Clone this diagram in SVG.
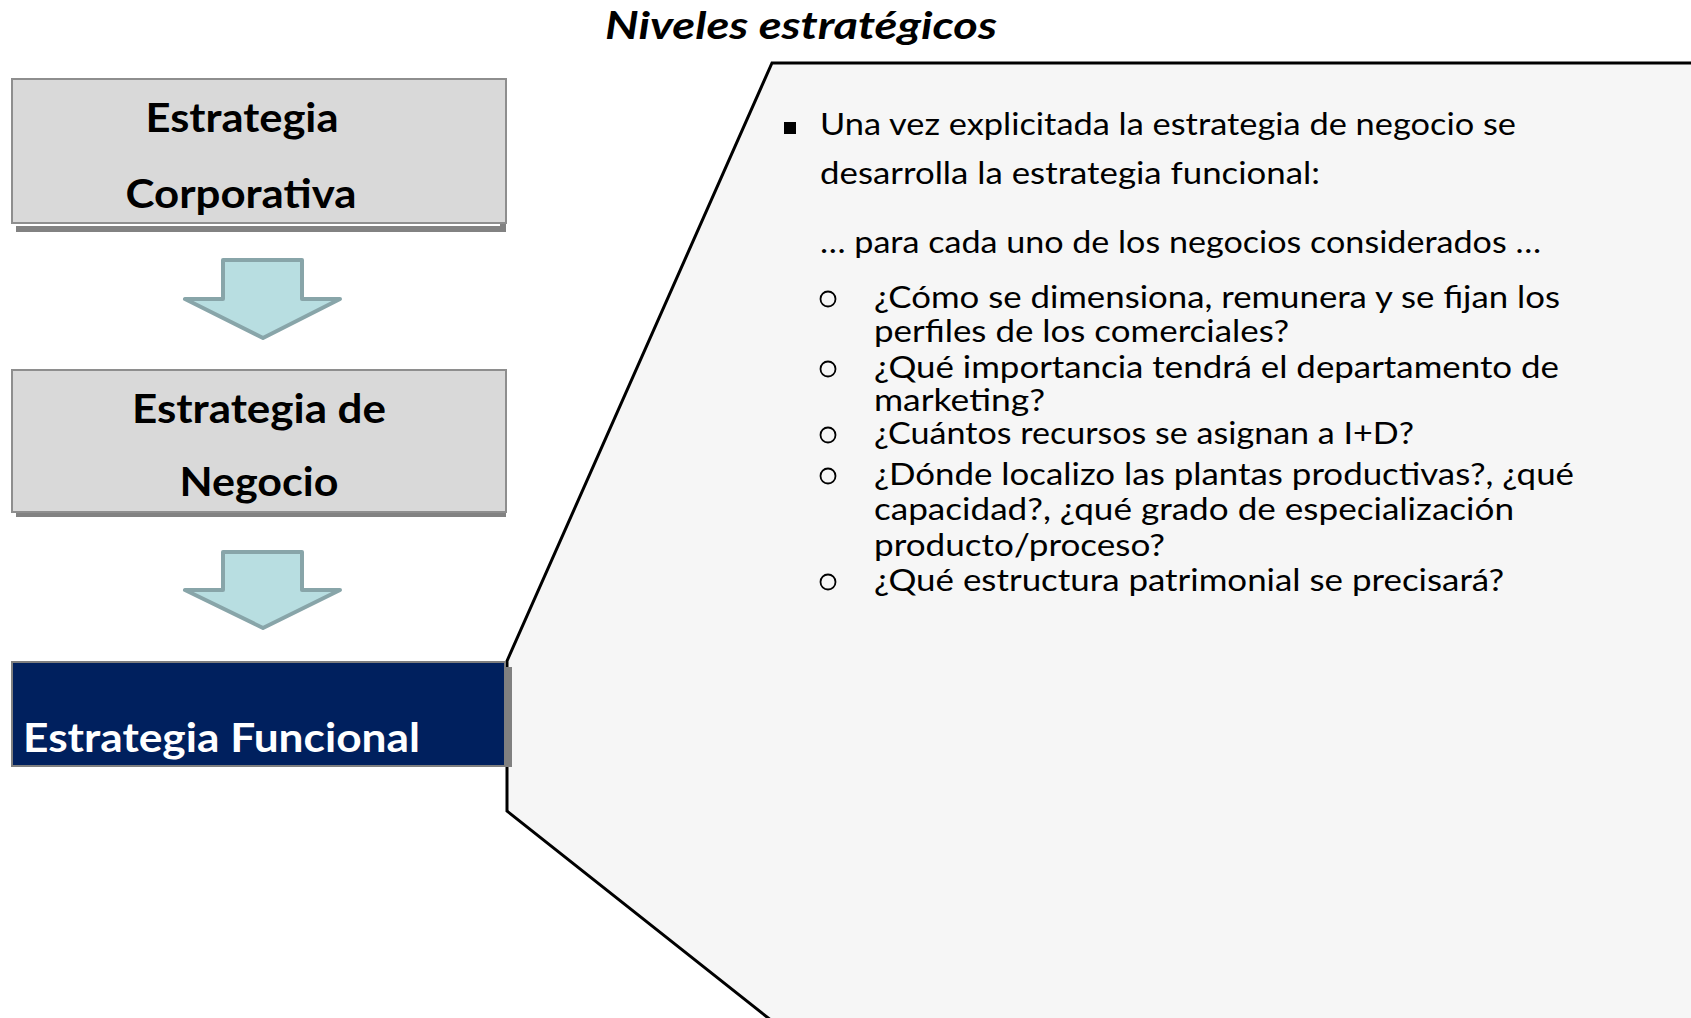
<svg xmlns="http://www.w3.org/2000/svg" width="1691" height="1018" viewBox="0 0 1691 1018">
<style>
.box{fill:#D9D9D9;stroke:#8E8E8E;stroke-width:2}
.shadow{fill:#828282}
.btxt{font-family:Lato,"Liberation Sans",sans-serif;font-weight:700;font-size:41px;fill:#000}
.wtxt{font-family:Lato,"Liberation Sans",sans-serif;font-weight:700;font-size:41px;fill:#fff}
.arrow{fill:#B8DEE1;stroke:#88A5A9;stroke-width:4;stroke-linejoin:round}
.body{font-family:Lato,"Liberation Sans",sans-serif;font-size:30px;fill:#000}
.title{font-family:Lato,"Liberation Sans",sans-serif;font-weight:700;font-style:italic;font-size:38px;fill:#000}
.ob{fill:none;stroke:#000;stroke-width:1.8}
</style>
<rect width="1691" height="1018" fill="#fff"/>

<g id="title">
<text class="title" x="605" y="39" textLength="392" lengthAdjust="spacingAndGlyphs">Niveles estratégicos</text>
</g>

<g id="panel">
<path d="M772,63 L1710,63 L1710,1040 L796,1040 L507,811 L507,661 Z" fill="#F6F6F6" stroke="#000" stroke-width="3" stroke-linejoin="miter"/>
<rect x="784" y="122" width="12" height="12" fill="#000"/>
<text class="body" x="820" y="135" textLength="696" lengthAdjust="spacingAndGlyphs">Una vez explicitada la estrategia de negocio se</text>
<text class="body" x="820" y="184" textLength="500" lengthAdjust="spacingAndGlyphs">desarrolla la estrategia funcional:</text>
<text class="body" x="820" y="253" textLength="721" lengthAdjust="spacingAndGlyphs">… para cada uno de los negocios considerados …</text>
<circle class="ob" cx="828" cy="299" r="7.5"/>
<circle class="ob" cx="828" cy="369" r="7.5"/>
<circle class="ob" cx="828" cy="435" r="7.5"/>
<circle class="ob" cx="828" cy="476" r="7.5"/>
<circle class="ob" cx="828" cy="582" r="7.5"/>
<text class="body" x="874" y="308" textLength="686" lengthAdjust="spacingAndGlyphs">¿Cómo se dimensiona, remunera y se fijan los</text>
<text class="body" x="874" y="342" textLength="415" lengthAdjust="spacingAndGlyphs">perfiles de los comerciales?</text>
<text class="body" x="874" y="378" textLength="685" lengthAdjust="spacingAndGlyphs">¿Qué importancia tendrá el departamento de</text>
<text class="body" x="874" y="411" textLength="171" lengthAdjust="spacingAndGlyphs">marketing?</text>
<text class="body" x="874" y="444" textLength="540" lengthAdjust="spacingAndGlyphs">¿Cuántos recursos se asignan a I+D?</text>
<text class="body" x="874" y="485" textLength="700" lengthAdjust="spacingAndGlyphs">¿Dónde localizo las plantas productivas?, ¿qué</text>
<text class="body" x="874" y="520" textLength="640" lengthAdjust="spacingAndGlyphs">capacidad?, ¿qué grado de especialización</text>
<text class="body" x="874" y="556" textLength="291" lengthAdjust="spacingAndGlyphs">producto/proceso?</text>
<text class="body" x="874" y="591" textLength="630" lengthAdjust="spacingAndGlyphs">¿Qué estructura patrimonial se precisará?</text>
</g>

<g id="box-corporativa">
<rect class="shadow" x="16" y="86" width="490" height="146"/>
<rect x="16" y="223" width="484" height="3" fill="#fff"/>
<rect class="box" x="12" y="79" width="494" height="144"/>
<text class="btxt" x="242" y="132" text-anchor="middle" textLength="193" lengthAdjust="spacingAndGlyphs">Estrategia</text>
<text class="btxt" x="241" y="208" text-anchor="middle" textLength="231" lengthAdjust="spacingAndGlyphs">Corporativa</text>
</g>

<g id="box-negocio">
<rect class="shadow" x="16" y="376" width="490" height="141"/>
<rect class="box" x="12" y="370" width="494" height="142"/>
<text class="btxt" x="259" y="423" text-anchor="middle" textLength="254" lengthAdjust="spacingAndGlyphs">Estrategia de</text>
<text class="btxt" x="259" y="496" text-anchor="middle" textLength="159" lengthAdjust="spacingAndGlyphs">Negocio</text>
</g>

<g id="box-funcional">
<rect x="505" y="667" width="7" height="100" fill="#808080"/>
<rect x="12" y="662" width="493" height="104" fill="#00205E" stroke="#7F7F7F" stroke-width="2"/>
<text class="wtxt" x="23" y="752" textLength="397" lengthAdjust="spacingAndGlyphs">Estrategia Funcional</text>
</g>

<g id="connectors">
<path class="arrow" d="M223,260 L302,260 L302,299 L340,299 L263,338 L185,299 L223,299 Z"/>
<path class="arrow" d="M223,552 L302,552 L302,590 L340,590 L263,628 L185,590 L223,590 Z"/>
</g>
</svg>
